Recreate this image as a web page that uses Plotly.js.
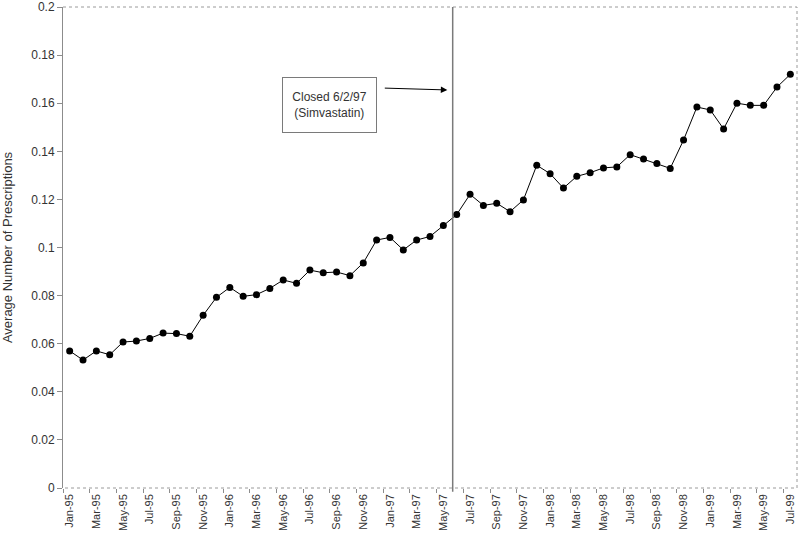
<!DOCTYPE html>
<html>
<head>
<meta charset="utf-8">
<script src="https://cdn.plot.ly/plotly-3.0.1.min.js"></script>
<style>
  html, body { margin: 0; padding: 0; background: #fff; }
  #chart { width: 800px; height: 535px; }
</style>
</head>
<body>
<div id="chart"></div>
<script>
// Monthly categories, Jan-95 .. Jul-99
const monthNames = ['Jan', 'Feb', 'Mar', 'Apr', 'May', 'Jun', 'Jul', 'Aug', 'Sep', 'Oct', 'Nov', 'Dec'];
const years = ['95', '96', '97', '98', '99'];
const lastMonthCount = 7; // 1999 runs through July

// Average number of prescriptions, one value per month
const values1995 = [0.0570, 0.0532, 0.0570, 0.0554, 0.0607, 0.0611, 0.0622, 0.0644, 0.0642, 0.0631, 0.0718, 0.0793];
const values1996 = [0.0834, 0.0797, 0.0804, 0.0830, 0.0865, 0.0851, 0.0906, 0.0895, 0.0898, 0.0883, 0.0936, 0.1031];
const values1997 = [0.1042, 0.0990, 0.1031, 0.1046, 0.1091, 0.1137, 0.1221, 0.1175, 0.1184, 0.1149, 0.1198, 0.1342];
const values1998 = [0.1307, 0.1247, 0.1296, 0.1311, 0.1331, 0.1335, 0.1386, 0.1368, 0.1349, 0.1329, 0.1447, 0.1584];
const values1999 = [0.1572, 0.1493, 0.1600, 0.1591, 0.1591, 0.1667, 0.1720];

// Closure event (between May-97 and Jun-97 categories)
const closurePos = 28.7;
const closureLabel = 'Closed 6/2/97<br>(Simvastatin)';

const months = [];
years.forEach((yr, i) => {
  const n = i === years.length - 1 ? lastMonthCount : 12;
  for (let m = 0; m < n; m++) months.push(monthNames[m] + '-' + yr);
});
const values = [...values1995, ...values1996, ...values1997, ...values1998, ...values1999];

const textColor = '#333333';
const axisGray = '#8c8c8c';

const trace = {
  x: months,
  y: values,
  type: 'scatter',
  mode: 'lines+markers',
  line: { color: '#000000', width: 1 },
  marker: { color: '#000000', size: 7 },
  hoverinfo: 'x+y'
};

const layout = {
  width: 800,
  height: 535,
  paper_bgcolor: '#FFFFFF',
  plot_bgcolor: '#FFFFFF',
  font: { family: '"Liberation Sans", Arial, sans-serif', size: 11, color: textColor },
  showlegend: false,
  margin: { t: 7, r: 3, b: 47, l: 63 },
  xaxis: {
    type: 'category',
    tickmode: 'linear',
    tick0: 0,
    dtick: 2,
    tickangle: -90,
    tickson: 'boundaries',
    ticks: 'outside',
    ticklen: 4,
    tickcolor: axisGray,
    ticklabelstandoff: 3,
    showgrid: false,
    zeroline: false,
    showline: false,
    tickfont: { size: 11, color: textColor },
    range: [-0.5, months.length - 0.5]
  },
  yaxis: {
    range: [0, 0.2],
    dtick: 0.02,
    ticks: 'outside',
    ticklen: 5,
    tickcolor: axisGray,
    showgrid: false,
    zeroline: false,
    showline: true,
    linecolor: axisGray,
    linewidth: 1,
    tickfont: { size: 12, color: textColor },
    title: {
      text: 'Average Number of Prescriptions',
      font: { size: 13, color: textColor },
      standoff: 16
    }
  },
  shapes: [
    // dotted plot-area border (top, right, bottom)
    {
      type: 'path', xref: 'paper', yref: 'paper',
      path: 'M 0 1 L 1 1 L 1 0 L 0 0',
      line: { color: '#9a9a9a', width: 1, dash: 'dot' }
    },
    // closure marker line
    {
      type: 'line', xref: 'x', yref: 'paper',
      x0: closurePos, x1: closurePos, y0: -0.008, y1: 1,
      line: { color: '#7a7a7a', width: 1.5 }
    }
  ],
  annotations: [
    {
      x: 19.5, y: 0.1593, xref: 'x', yref: 'y',
      text: closureLabel,
      showarrow: false,
      align: 'center',
      width: 91,
      height: 52,
      bgcolor: '#FFFFFF',
      bordercolor: '#7a7a7a',
      borderwidth: 1,
      font: { size: 12, color: textColor }
    },
    {
      x: 28.3, y: 0.1655, xref: 'x', yref: 'y',
      ax: 23.5, ay: 0.1663, axref: 'x', ayref: 'y',
      text: '',
      showarrow: true,
      arrowhead: 2,
      arrowsize: 1.3,
      arrowwidth: 1,
      arrowcolor: '#000000'
    }
  ]
};

const config = { displayModeBar: false, responsive: false };

Plotly.newPlot('chart', [trace], layout, config);
</script>
</body>
</html>
